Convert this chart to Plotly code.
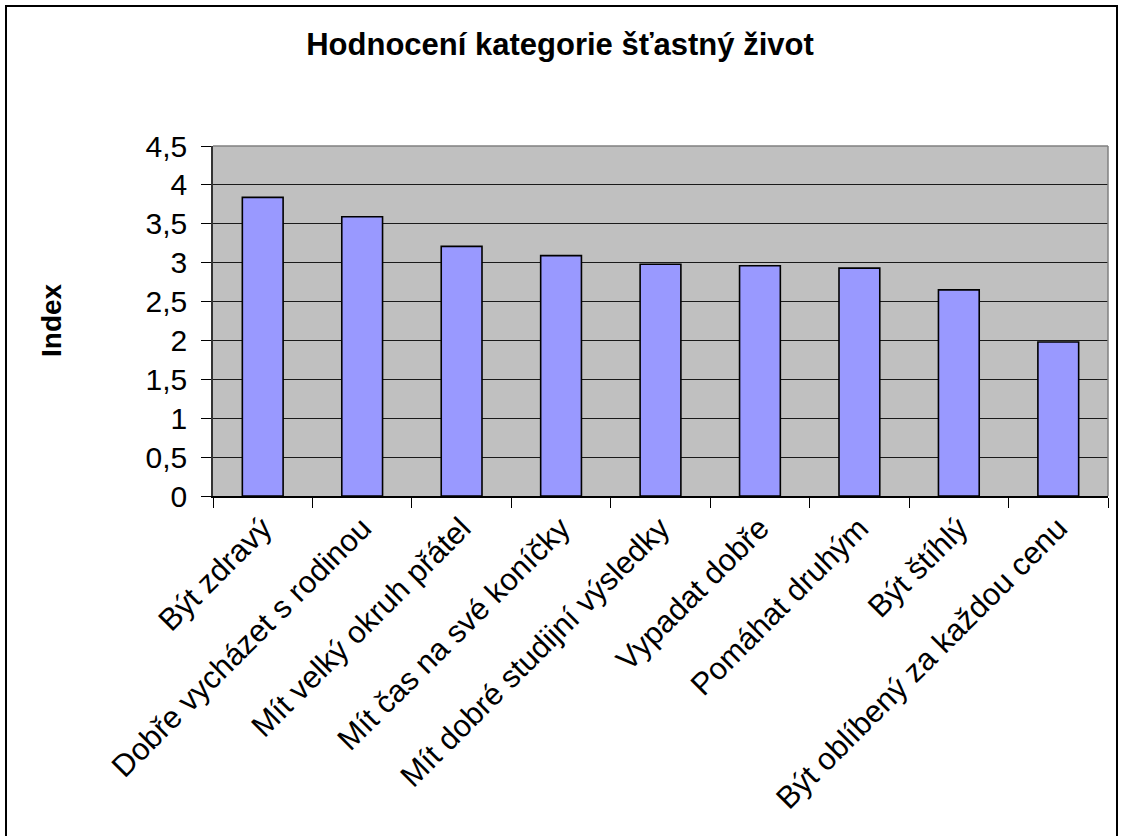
import plotly.graph_objects as go

categories = [
    "Být zdravý",
    "Dobře vycházet s rodinou",
    "Mít velký okruh přátel",
    "Mít čas na své koníčky",
    "Mít dobré studijní výsledky",
    "Vypadat dobře",
    "Pomáhat druhým",
    "Být štíhlý",
    "Být oblíbený za každou cenu",
]
values = [3.84, 3.59, 3.21, 3.09, 2.98, 2.96, 2.93, 2.65, 1.98]

W, H = 1123, 836
L, R, T, B = 213, 1108, 146, 496

fig = go.Figure(
    go.Bar(
        x=categories,
        y=values,
        marker=dict(color="#9999FF", line=dict(color="#000000", width=1.6)),
        width=0.41,
        hoverinfo="x+y",
    )
)

def px_x(p):
    return (p - L) / (R - L)

def px_y(p):
    return (B - p) / (B - T)

fig.update_layout(
    width=W,
    height=H,
    margin=dict(l=L, r=W - R, t=T, b=H - B, pad=0),
    paper_bgcolor="white",
    plot_bgcolor="#C0C0C0",
    separators=", ",
    showlegend=False,
    font=dict(family="Liberation Sans, Arial, sans-serif", color="black"),
    title=dict(
        text="<b>Hodnocení kategorie šťastný život</b>",
        font=dict(size=31, family="Liberation Sans, Arial, sans-serif", color="black"),
        x=px_x(560), xref="paper", xanchor="center",
        y=1 - 44 / H, yref="container", yanchor="middle",
    ),
    xaxis=dict(
        type="category",
        tickangle=-45,
        tickfont=dict(size=31),
        ticks="outside",
        tickson="boundaries",
        ticklen=10,
        tickcolor="black",
        showline=True,
        linecolor="black",
        linewidth=1.5,
        showgrid=False,
        mirror=False,
        range=[-0.5, len(categories) - 0.5],
    ),
    yaxis=dict(
        range=[0, 4.5],
        dtick=0.5,
        tick0=0,
        tickfont=dict(size=30),
        ticks="outside",
        ticklen=10,
        tickcolor="black",
        showline=True,
        linecolor="#333333",
        linewidth=1.5,
        showgrid=True,
        gridcolor="#1a1a1a",
        gridwidth=1.2,
        zeroline=False,
        ticklabelstandoff=8,
    ),
    annotations=[
        dict(
            text="<b>Index</b>", textangle=-90, showarrow=False,
            xref="paper", yref="paper", x=px_x(51), y=px_y(320),
            xanchor="center", yanchor="middle",
            font=dict(size=28, family="Liberation Sans, Arial, sans-serif", color="black"),
        )
    ],
    shapes=[
        # gray plot-area border (top and right)
        dict(type="line", xref="paper", yref="paper", x0=0, x1=1, y0=1, y1=1,
             line=dict(color="#808080", width=1.5)),
        dict(type="line", xref="paper", yref="paper", x0=1, x1=1, y0=0, y1=1,
             line=dict(color="#808080", width=1.5)),
        # outer chart frame
        dict(type="rect", xref="paper", yref="paper",
             x0=px_x(6), x1=px_x(1117), y0=px_y(H + 10), y1=px_y(6),
             line=dict(color="black", width=2), layer="above"),
    ],
)

fig.write_html(
    "out.html",
    config={"displayModeBar": False},
    post_script="document.body.style.margin='0';",
)
